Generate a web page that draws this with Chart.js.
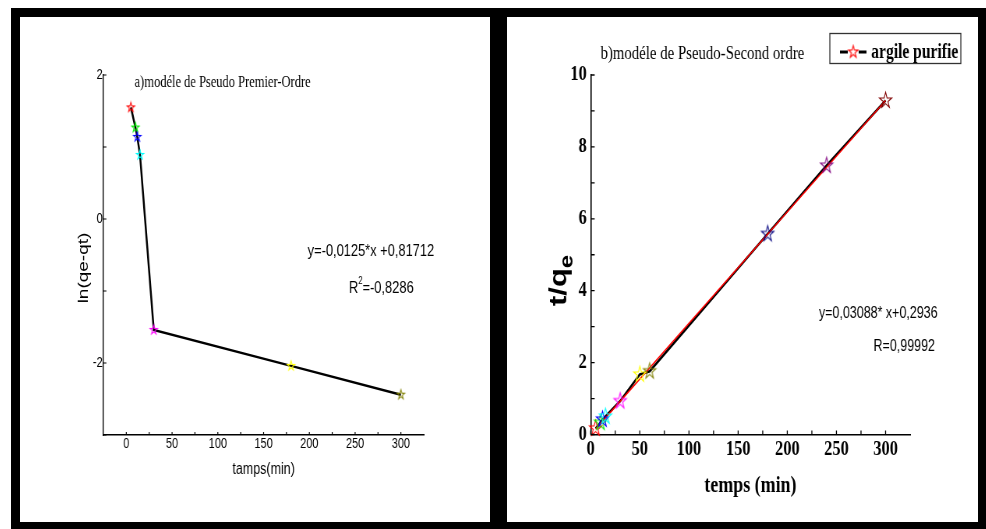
<!DOCTYPE html>
<html>
<head>
<meta charset="utf-8">
<script src="https://cdn.jsdelivr.net/npm/chart.js@4.4.0/dist/chart.umd.min.js"></script>
<style>
body{margin:0;background:#fff;width:986px;height:529px;overflow:hidden;position:relative}
#cadre{position:absolute;left:11px;top:8px;width:975px;height:521px;background:#000}
.panneau{position:absolute;top:17px;height:505px;background:#fff;overflow:hidden}
#pA{left:20px;width:470px}
#pB{left:507px;width:471px}
canvas{display:block}
</style>
</head>
<body>
<div id="cadre"></div>
<div class="panneau" id="pA"><canvas id="chartA" width="603" height="505" style="width:470px;height:505px"></canvas></div>
<div class="panneau" id="pB"><canvas id="chartB" width="604" height="505" style="width:471px;height:505px"></canvas></div>
<script>
// le graphique est dessiné plus large puis tassé horizontalement (comme l'original)
const SX_A = 470 / 603;
const SX_B = 471 / 604;

// a) pseudo premier ordre
const tempsPremier = [5, 10, 12, 15, 30, 180, 300];
const lnPremier = [1.55, 1.27, 1.14, 0.89, -1.54, -2.04, -2.44];
const couleursPremier = ['#ff0000', '#00ee00', '#0000ff', '#00ffff', '#ff00ff', '#ffff00', '#808000'];

// b) pseudo second ordre
const tempsSecond = [5, 10, 12, 15, 30, 50, 60, 180, 240, 300];
const tqSecond = [0.17, 0.33, 0.42, 0.5, 0.93, 1.67, 1.76, 5.58, 7.48, 9.29];
const couleursSecond = ['#ff0000', '#00ee00', '#0000ff', '#00ffff', '#ff00ff', '#ffff00', '#808000', '#000080', '#800080', '#800000'];
const ajustTemps = [5, 300];
const ajustTq = [0.15, 9.29];

// graduations et étiquettes
const ticksXA = [0, 25, 50, 75, 100, 125, 150, 175, 200, 225, 250, 275, 300];
const labelsXA = [0, 50, 100, 150, 200, 250, 300];
const ticksYA = [-3, -2, -1, 0, 1, 2];
const labelsYA = [-2, 0, 2];
const ticksXB = [0, 25, 50, 75, 100, 125, 150, 175, 200, 225, 250, 275, 300];
const labelsXB = [0, 50, 100, 150, 200, 250, 300];
const ticksYB = [0, 1, 2, 3, 4, 5, 6, 7, 8, 9, 10];
const labelsYB = [0, 2, 4, 6, 8, 10];

const titreA = 'a)modéle de Pseudo Premier-Ordre';
const equationA = 'y=-0,0125*x +0,81712';
const r2A = '=-0,8286';
const axeXA = 'tamps(min)';
const axeYA = 'ln(qe-qt)';
const titreB = 'b)modéle de Pseudo-Second ordre';
const equationB = 'y=0,03088* x+0,2936';
const rB = 'R=0,99992';
const axeXB = 'temps (min)';
const legendeB = 'argile purifie';

const SANS = '"Liberation Sans", Arial, sans-serif';
const SERIF = '"Liberation Serif", "Times New Roman", serif';

function etoile(couleur, R, fond) {
const c = document.createElement('canvas');
const s = Math.ceil(2 * R + 4);
c.width = s; c.height = s;
const g = c.getContext('2d');
g.beginPath();
for (let i = 0; i < 10; i++) {
const r = i % 2 ? R * 0.382 : R;
const a = -Math.PI / 2 + i * Math.PI / 5;
g.lineTo(s / 2 + r * Math.cos(a), s / 2 + r * Math.sin(a));
}
g.closePath();
if (fond) { g.fillStyle = fond; g.fill(); }
g.strokeStyle = couleur;
g.lineWidth = 1.1;
g.stroke();
return c;
}

function points(xs, ys) {
return xs.map((x, i) => ({ x, y: ys[i] }));
}

// petites graduations vers l'intérieur
const graduations = {
id: 'graduations',
afterDraw(chart, args, opts) {
const ctx = chart.ctx;
const { left, bottom } = chart.chartArea;
const sx = chart.scales.x, sy = chart.scales.y;
ctx.save();
ctx.strokeStyle = opts.couleur;
ctx.lineWidth = opts.epaisseur;
ctx.beginPath();
sx.ticks.forEach(t => {
const px = sx.getPixelForValue(t.value);
ctx.moveTo(px, bottom);
ctx.lineTo(px, bottom - opts.longueur);
});
sy.ticks.forEach(t => {
const py = sy.getPixelForValue(t.value);
ctx.moveTo(left, py);
ctx.lineTo(left + opts.longueur / opts.sx, py);
});
ctx.stroke();
ctx.restore();
}
};

const textesA = {
id: 'textesA',
afterDraw(chart) {
const ctx = chart.ctx;
ctx.save();
ctx.fillStyle = '#000';
ctx.font = '16px ' + SERIF;
ctx.fillText(titreA, 147, 70);
ctx.font = '16.5px ' + SANS;
ctx.fillText(equationA, 369, 239);
ctx.fillText('R', 422, 276);
let w = ctx.measureText('R').width;
ctx.font = '10px ' + SANS;
ctx.fillText('2', 422 + w, 267);
w += ctx.measureText('2').width;
ctx.font = '16.5px ' + SANS;
ctx.fillText(r2A, 422 + w, 276);
ctx.translate(82, 251);
ctx.rotate(-Math.PI / 2);
ctx.textAlign = 'center';
ctx.textBaseline = 'middle';
ctx.font = '19px ' + SANS;
ctx.fillText(axeYA, 0, 0);
ctx.restore();
}
};

const textesB = {
id: 'textesB',
afterDraw(chart) {
const ctx = chart.ctx;
ctx.save();
ctx.fillStyle = '#000';
ctx.font = '19px ' + SERIF;
ctx.fillText(titreB, 120, 42);
ctx.font = '16px ' + SANS;
ctx.fillText(equationB, 400, 301);
ctx.fillText(rB, 470, 334);
// légende
ctx.strokeStyle = '#333';
ctx.lineWidth = 1.3;
ctx.strokeRect(414, 16.5, 168, 30);
ctx.strokeStyle = '#000';
ctx.lineWidth = 3;
ctx.beginPath();
ctx.moveTo(427, 35); ctx.lineTo(437, 35);
ctx.moveTo(451, 35); ctx.lineTo(461, 35);
ctx.stroke();
const e = etoile('#ff0000', 6.5, '#fff');
ctx.drawImage(e, 444 - e.width / 2, 35 - e.height / 2);
ctx.font = 'bold 20px ' + SERIF;
ctx.fillText(legendeB, 467, 41);
// titre axe y : t/qe
ctx.translate(76, 289);
ctx.rotate(-Math.PI / 2);
ctx.font = 'bold 31px ' + SANS;
ctx.fillText('t/q', 0, 0);
const wq = ctx.measureText('t/q').width;
ctx.font = 'bold 24px ' + SANS;
ctx.fillText('e', wq, 8);
ctx.restore();
}
};

function echelle(ticks, labels, min, max, police, pad, opts) {
return Object.assign({
type: 'linear', min, max,
afterBuildTicks: s => { s.ticks = ticks.map(v => ({ value: v })); },
grid: { display: false, drawTicks: false },
border: { display: true, color: '#000', width: 1.4 },
ticks: {
color: '#000', padding: pad, font: police,
autoSkip: false, maxRotation: 0, minRotation: 0,
callback: v => labels.includes(v) ? String(v) : ''
}
}, opts);
}

new Chart(document.getElementById('chartA'), {
type: 'scatter',
data: {
datasets: [{
label: axeYA,
data: points(tempsPremier, lnPremier),
showLine: true,
borderColor: '#000',
borderWidth: 2.5,
pointStyle: couleursPremier.map(c => etoile(c, 5)),
pointRadius: 5,
clip: false
}]
},
options: {
animation: false, responsive: false, devicePixelRatio: 1,
layout: { padding: { left: 40, right: 85, top: 58, bottom: 43 } },
plugins: {
legend: { display: false }, tooltip: { enabled: false },
graduations: { couleur: '#000', epaisseur: 1.2, longueur: 3, sx: SX_A }
},
scales: {
x: echelle(ticksXA, labelsXA, -25, 325, { family: SANS, size: 14 }, 1, {
afterFit: s => { s.height = 44; },
title: { display: true, text: axeXA, color: '#000', padding: 0, font: { family: SANS, size: 16 } }
}),
y: echelle(ticksYA, labelsYA, -3, 2, { family: SANS, size: 14 }, 1, {
afterFit: s => { s.width = 67; }
})
}
},
plugins: [graduations, textesA]
});

new Chart(document.getElementById('chartB'), {
type: 'scatter',
data: {
datasets: [
{
label: legendeB,
data: points(tempsSecond, tqSecond),
showLine: false,
pointStyle: couleursSecond.map(c => etoile(c, 8.3)),
pointRadius: 6,
clip: false
},
{
label: 'ajustement',
data: points(ajustTemps, ajustTq),
showLine: true,
borderColor: '#ff0000',
borderWidth: 1.5,
pointRadius: 0
},
{
label: 'courbe',
data: points(tempsSecond, tqSecond),
showLine: true,
borderColor: '#000',
borderWidth: 2.6,
pointRadius: 0
}
]
},
options: {
animation: false, responsive: false, devicePixelRatio: 1,
layout: { padding: { left: 40, right: 87, top: 58, bottom: 22 } },
plugins: {
legend: { display: false }, tooltip: { enabled: false },
graduations: { couleur: '#000', epaisseur: 1.3, longueur: 4, sx: SX_B }
},
scales: {
x: echelle(ticksXB, labelsXB, 0, 325, { family: SERIF, size: 21, weight: 'bold' }, 2, {
afterFit: s => { s.height = 65.5; },
border: { display: true, color: '#000', width: 1.6 },
title: { display: true, text: axeXB, color: '#000', padding: 0, font: { family: SERIF, size: 23, weight: 'bold' } }
}),
y: echelle(ticksYB, labelsYB, 0, 10, { family: SERIF, size: 21, weight: 'bold' }, 5, {
afterFit: s => { s.width = 67.3; },
border: { display: true, color: '#000', width: 1.6 }
})
}
},
plugins: [graduations, textesB]
});
</script>
</body>
</html>
